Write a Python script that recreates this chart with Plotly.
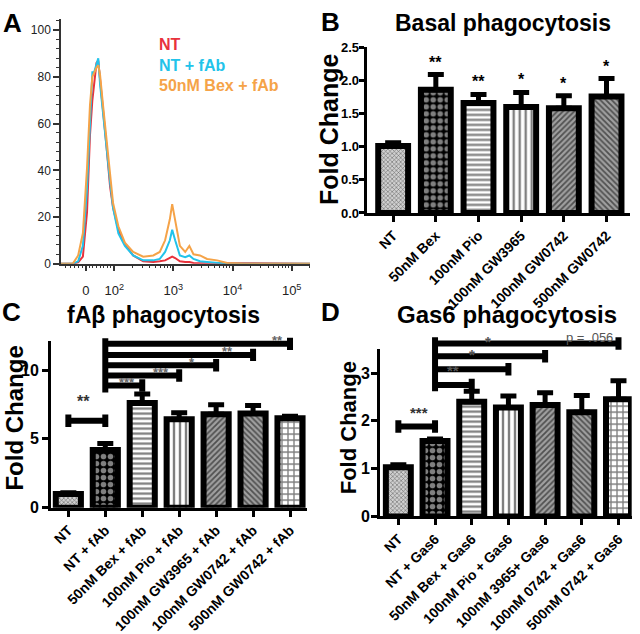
import math
import plotly.graph_objects as go

FONT = "Liberation Sans, Arial, Helvetica, sans-serif"
W, H = 640, 634

# ---------------- Panel A : flow histogram ----------------
hist_x = [1.10, 1.30, 1.39, 1.47, 1.54, 1.59, 1.63, 1.66, 1.70, 1.73, 1.76, 1.81,
          1.87, 1.93, 1.98, 2.07, 2.18, 2.32, 2.49, 2.66, 2.77, 2.86, 2.94, 2.98,
          3.03, 3.11, 3.20, 3.27, 3.34, 3.45, 3.57, 3.74, 3.91, 4.20, 5.31]
hist_nt = [0, 0, 0.5, 3, 22, 55, 70, 78, 86, 87, 80, 66, 50, 33, 24, 14.5, 8.3,
           3.5, 1, 0.7, 1, 1.4, 2.5, 3, 2.4, 1, 0.7, 0.7, 0.3, 0.3, 0, 0, 0, 0, 0]
hist_fab = [0, 0, 1, 7.6, 32, 64, 82, 82, 86, 88, 77, 64, 49, 35, 24, 13, 7.6,
            3.5, 1.4, 1.4, 2, 5, 10, 14.5, 10, 3.5, 2.8, 3.5, 2, 1, 0.7, 0.3, 0, 0, 0]
hist_bex = [0, 0, 3.5, 13, 41, 68, 80, 82, 84, 85, 81, 68, 52, 38, 26, 16, 9,
            5, 3, 3.5, 5, 10, 19, 25.5, 19, 7.6, 5, 7.6, 4, 3.5, 2, 1.4, 0.3, 0, 0]
hist_names = ["NT", "NT + fAb", "50nM Bex + fAb"]
hist_colors = ["#e8323c", "#22c3ea", "#f5a348"]
hist_tickvals = [1.52, 2, 3, 4, 5]
hist_ticktext = ["0", "10<sup>2</sup>", "10<sup>3</sup>", "10<sup>4</sup>", "10<sup>5</sup>"]

# ---------------- Panel B ----------------
b_cats = ["NT", "50nM Bex", "100nM Pio", "100nM GW3965", "100nM GW0742", "500nM GW0742"]
b_vals = [1.01, 1.86, 1.66, 1.60, 1.58, 1.76]
b_errs = [0.05, 0.23, 0.13, 0.22, 0.19, 0.27]
b_stars = ["", "**", "**", "*", "*", "*"]

# ---------------- Panel C ----------------
c_cats = ["NT", "NT + fAb", "50nM Bex + fAb", "100nM Pio + fAb",
          "100nM GW3965 + fAb", "100nM GW0742 + fAb", "500nM GW0742 + fAb"]
c_vals = [1.0, 4.2, 7.6, 6.43, 6.78, 6.85, 6.5]
c_errs = [0.08, 0.47, 0.65, 0.47, 0.7, 0.58, 0.15]
# (from index, to index, bracket height, label)
c_brackets = [(0, 1, 6.32, "**"), (1, 2, 8.88, "***"), (1, 3, 9.6, "***"),
              (1, 4, 10.35, "*"), (1, 5, 11.1, "**"), (1, 6, 11.9, "**")]
c_spine = [8.37, 12.3]

# ---------------- Panel D ----------------
d_cats = ["NT", "NT + Gas6", "50nM Bex + Gas6", "100nM Pio + Gas6",
          "100nM 3965+ Gas6", "100nM 0742 + Gas6", "500nM 0742 + Gas6"]
d_vals = [1.03, 1.58, 2.40, 2.28, 2.33, 2.18, 2.45]
d_errs = [0.05, 0.04, 0.22, 0.24, 0.26, 0.35, 0.39]
d_brackets = [(0, 1, 1.88, "***"), (1, 2, 2.75, "**"), (1, 3, 3.08, "*"),
              (1, 4, 3.35, "*"), (1, 6, 3.62, "p = .056")]
d_spine = [2.62, 3.75]

# pattern styles: (shape, fg, bg, size, solidity)
PAT = {
    "fine": ("x", "black", "#d0d0d0", 3, 0.35),
    "check": (".", "white", "black", 7, 0.5),
    "hline": ("-", "black", "white", 5, 0.45),
    "vline": ("|", "black", "white", 6, 0.4),
    "slash": ("/", "black", "#a0a0a0", 4, 0.45),
    "bslash": ("\\", "black", "#a0a0a0", 4, 0.45),
    "grid": ("+", "black", "white", 6, 0.4),
}
b_pats = ["fine", "check", "hline", "vline", "slash", "bslash"]
cd_pats = ["fine", "check", "hline", "vline", "slash", "bslash", "grid"]


def px(x):
    return x / W


def py(y):
    return 1 - y / H


fig = go.Figure()
annotations = []

# ---- Panel A traces ----
for name, ys, col in zip(hist_names, [hist_nt, hist_fab, hist_bex], hist_colors):
    fig.add_trace(go.Scatter(x=hist_x, y=ys, mode="lines", name=name,
                             line=dict(color=col, width=2), xaxis="x", yaxis="y",
                             showlegend=False))
for i, (name, col) in enumerate(zip(hist_names, hist_colors)):
    annotations.append(dict(xref="paper", yref="paper", x=px(157), y=py(39 + 21 * i),
                            xanchor="left", yanchor="middle", showarrow=False,
                            text=name, font=dict(family=FONT, size=16, color=col, weight="bold")))


def bar_panel(cats, vals, errs, pats, xa, ya, width):
    fig.add_trace(go.Bar(
        x=list(range(len(cats))), y=vals, width=width, xaxis=xa, yaxis=ya,
        marker=dict(color="white", line=dict(color="black", width=6),
                    pattern=dict(shape=[PAT[p][0] for p in pats],
                                 fgcolor=[PAT[p][1] for p in pats],
                                 bgcolor=[PAT[p][2] for p in pats],
                                 size=[PAT[p][3] for p in pats],
                                 solidity=[PAT[p][4] for p in pats])),
        error_y=dict(type="data", array=errs, arrayminus=[0] * len(vals), symmetric=False,
                     thickness=5, width=8, color="black"),
        showlegend=False, cliponaxis=False))


def brackets(br, spine, xa, ya, cap):
    xs, ys = [1, 1, None], [spine[0], spine[1], None]
    for (i0, i1, yb, lbl) in br:
        if i0 == 0:
            xs += [i0, i0, None]
            ys += [yb - cap, yb + cap, None]
        xs += [i0, i1, None, i1, i1, None]
        ys += [yb, yb, None, yb - cap, yb + cap, None]
    fig.add_trace(go.Scatter(x=xs, y=ys, mode="lines",
                             line=dict(color="black", width=6), xaxis=xa, yaxis=ya,
                             showlegend=False, hoverinfo="skip"))


# ---- Panel B ----
bar_panel(b_cats, b_vals, b_errs, b_pats, "x2", "y2", 0.70)
for i, (v, e, s) in enumerate(zip(b_vals, b_errs, b_stars)):
    if s:
        annotations.append(dict(xref="x2", yref="y2", x=i, y=v + e, yshift=2,
                                xanchor="center", yanchor="bottom", showarrow=False,
                                text=s, font=dict(family=FONT, size=16, color="black",
                                                  weight="bold")))

# ---- Panel C ----
bar_panel(c_cats, c_vals, c_errs, cd_pats, "x3", "y3", 0.68)
brackets(c_brackets, c_spine, "x3", "y5", 0.45)
c_lbl_x = [0.42, 1.6, 2.5, 3.35, 4.3, 5.65]
for (i0, i1, yb, lbl), lx in zip(c_brackets, c_lbl_x):
    annotations.append(dict(xref="x3", yref="y5", x=lx, y=yb, yshift=9 if i0 == 0 else 3,
                            xanchor="center", yanchor="bottom" if i0 == 0 else "middle",
                            showarrow=False, text=lbl,
                            font=dict(family=FONT, size=16 if i0 == 0 else 13,
                                      color="#333" if i0 == 0 else "#666", weight="bold")))

# ---- Panel D ----
bar_panel(d_cats, d_vals, d_errs, cd_pats, "x4", "y4", 0.68)
brackets(d_brackets, d_spine, "x4", "y6", 0.13)
d_lbl_x = [0.55, 1.5, 2.0, 2.45, 5.2]
for (i0, i1, yb, lbl), lx in zip(d_brackets, d_lbl_x):
    is_p = lbl.startswith("p")
    annotations.append(dict(xref="x4", yref="y6", x=lx, y=yb, yshift=4 if not is_p else -4,
                            xanchor="center", yanchor="bottom", showarrow=False, text=lbl,
                            font=dict(family=FONT, size=15 if not is_p else 13,
                                      color="#333" if i0 == 0 else "#555",
                                      weight="normal" if is_p else "bold")))


# ---- titles, letters, axis titles ----
def ann(x, y, text, size, angle=0, weight="bold", color="black"):
    annotations.append(dict(xref="paper", yref="paper", x=px(x), y=py(y), text=text,
                            showarrow=False, xanchor="center", yanchor="middle",
                            textangle=angle,
                            font=dict(family=FONT, size=size, color=color, weight=weight)))


ann(12, 17, "A", 26)
ann(330, 16, "B", 26)
ann(11, 315, "C", 26)
ann(330, 315, "D", 26)
ann(503, 17, "Basal phagocytosis", 23)
ann(163, 318, "fAβ phagocytosis", 23)
ann(507, 317, "Gas6 phagocytosis", 24)
ann(329, 127, "Fold Change", 25, -90)
ann(15, 425, "Fold Change", 24, -90)
ann(348, 435, "Fold Change", 22, -90)

# ---- axes ----
minor_x = [d + math.log10(k) for d in (2, 3, 4, 5) for k in range(2, 10)
           if d + math.log10(k) <= 5.31]
minor_x += [1.18, 1.26, 1.33, 1.40, 1.46, 1.58, 1.64, 1.70, 1.76, 1.82, 1.88, 1.94]

axis_line = "#333"
layout_axes = dict(
    xaxis=dict(domain=[px(61), px(310)], range=[1.10, 5.31], anchor="y",
               showline=True, linecolor=axis_line, linewidth=1.5, showgrid=False,
               zeroline=False, ticks="outside", ticklen=6, tickwidth=1.5,
               tickcolor=axis_line, tickvals=hist_tickvals, ticktext=hist_ticktext,
               ticklabelstandoff=8,
               tickfont=dict(family=FONT, size=13, color="#222"),
               minor=dict(tickmode="array", tickvals=minor_x, ticks="outside",
                          ticklen=3, tickwidth=1, tickcolor=axis_line)),
    yaxis=dict(domain=[py(265), py(12)], range=[0, 105], anchor="x",
               showline=True, linecolor=axis_line, linewidth=1.5, showgrid=False,
               zeroline=False, ticks="outside", ticklen=6, tickwidth=1.5,
               tickcolor=axis_line, tickvals=[0, 20, 40, 60, 80, 100],
               tickfont=dict(family=FONT, size=12, color="#222"),
               minor=dict(dtick=4, ticks="outside", ticklen=3, tickwidth=1,
                          tickcolor=axis_line)),
)


def bar_axes(xdom, ydom, xrange, yrange, cats, ytickvals, yfmt, label_size, ylabel_size):
    xa = dict(domain=xdom, range=xrange, showline=True, linecolor="black", linewidth=3,
              showgrid=False, zeroline=False, ticks="outside", ticklen=6, tickwidth=3,
              tickcolor="black", tickvals=list(range(len(cats))), ticktext=cats,
              tickangle=-45,
              tickfont=dict(family=FONT, size=label_size, color="black", weight="bold"))
    ya = dict(domain=ydom, range=yrange, showline=True, linecolor="black", linewidth=3,
              showgrid=False, zeroline=False, ticks="outside", ticklen=6, tickwidth=3,
              tickcolor="black", tickvals=ytickvals, tickformat=yfmt,
              tickfont=dict(family=FONT, size=ylabel_size, color="black", weight="bold"))
    return xa, ya


def extended_axis(ya, top, anchor):
    # invisible axis with the same scale as ya, reaching higher (for brackets)
    y0, y1 = ya["domain"]
    r0, r1 = ya["range"]
    k = (y1 - y0) / (r1 - r0)
    return dict(domain=[y0, y0 + (top - r0) * k], range=[r0, top], anchor=anchor,
                visible=False, showgrid=False, zeroline=False)


xa2, ya2 = bar_axes([px(366.7), px(630)], [py(212.7), py(41.7)], [-0.62, 5.55], [0, 2.5],
                    b_cats, [0, 0.5, 1.0, 1.5, 2.0, 2.5], ".1f", 14, 13)
xa3, ya3 = bar_axes([px(51), px(307)], [py(517), py(345)], [-0.47, 6.46], [0, 12.1],
                    c_cats, [0, 5, 10], "d", 14, 16)
xa4, ya4 = bar_axes([px(380), px(631.7)], [py(526), py(353.3)], [-0.5, 6.36], [0, 3.5],
                    d_cats, [0, 1, 2, 3], "d", 14, 16)
xa2["anchor"], ya2["anchor"] = "y2", "x2"
xa3["anchor"], ya3["anchor"] = "y3", "x3"
xa4["anchor"], ya4["anchor"] = "y4", "x4"
ya2["ticklen"] = 5
ya2["ticklabelstandoff"] = -3
ya4["ticklabelstandoff"] = -2
ya5 = extended_axis(ya3, 13.0, "x3")
ya6 = extended_axis(ya4, 3.9, "x4")

fig.update_layout(
    width=W, height=H, margin=dict(l=0, r=0, t=0, b=0),
    paper_bgcolor="white", plot_bgcolor="rgba(0,0,0,0)", showlegend=False,
    font=dict(family=FONT),
    xaxis2=xa2, yaxis2=ya2, xaxis3=xa3, yaxis3=ya3, xaxis4=xa4, yaxis4=ya4,
    yaxis5=ya5, yaxis6=ya6,
    annotations=annotations,
    **layout_axes,
)

fig.write_html("out.html", config={"displayModeBar": False},
               post_script="document.body.style.margin='0px';")
